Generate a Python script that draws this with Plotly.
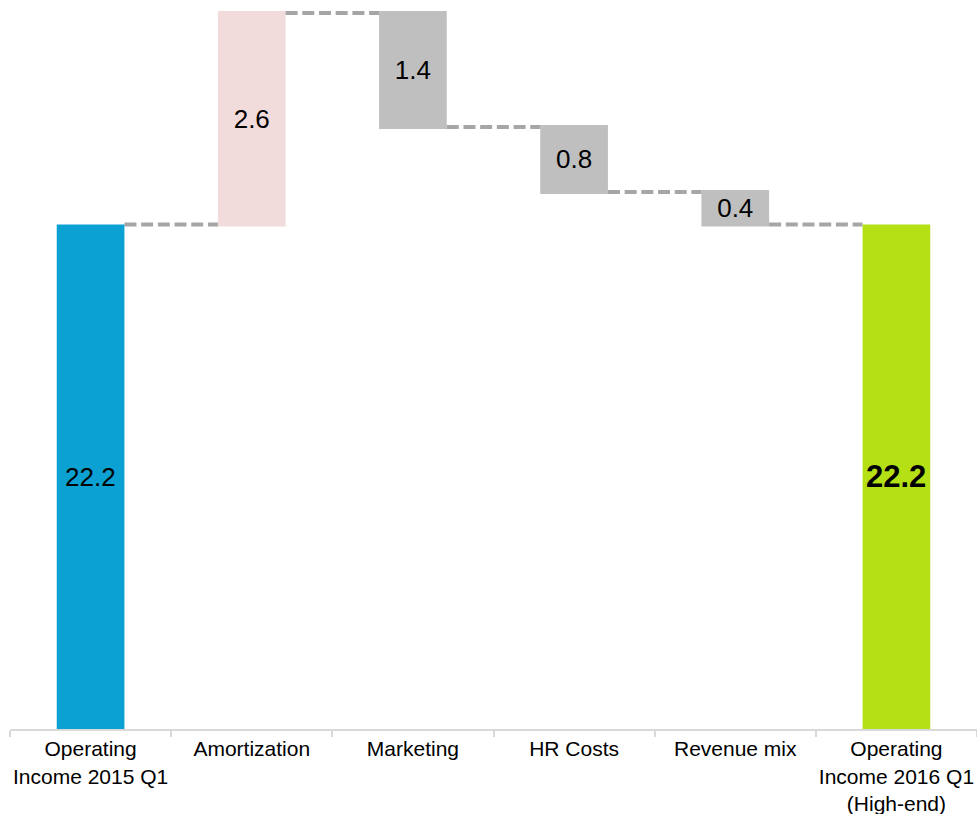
import plotly.graph_objects as go

categories = [
    "Operating<br>Income 2015 Q1",
    "Amortization",
    "Marketing",
    "HR Costs",
    "Revenue mix",
    "Operating<br>Income 2016 Q1<br>(High-end)",
]
start_value = 22.2
changes = [2.6, -1.4, -0.8, -0.4]
measures = ["absolute", "relative", "relative", "relative", "relative", "total"]

end_value = round(start_value + sum(changes), 1)
wf_y = [start_value] + changes + [0]
wf_text = [""] + [f"{abs(c):.1f}" for c in changes] + [""]

Y_MIN, Y_MAX = 16, 24.96
FONT = "Liberation Sans, Arial, sans-serif"
BAR_WIDTH = 0.42

fig = go.Figure()
# waterfall: steps and connectors (total bars drawn transparent, coloured below)
fig.add_trace(go.Waterfall(
    x=categories,
    y=wf_y,
    measure=measures,
    text=wf_text,
    textposition="inside",
    insidetextanchor="middle",
    constraintext="none",
    textfont=dict(family=FONT, size=26, color="#000000"),
    increasing=dict(marker=dict(color="#F2DCDB")),
    decreasing=dict(marker=dict(color="#BFBFBF")),
    totals=dict(marker=dict(color="rgba(0,0,0,0)")),
    connector=dict(line=dict(color="#A6A6A6", width=4, dash="12px,4.7px"), mode="between"),
    width=BAR_WIDTH,
    hoverinfo="skip",
    showlegend=False,
))
# start and end totals with their own colours
fig.add_trace(go.Bar(
    x=[categories[0], categories[-1]],
    y=[start_value, end_value],
    marker=dict(color=["#0BA1D3", "#B5E016"], line=dict(width=0)),
    width=BAR_WIDTH,
    hoverinfo="skip",
    showlegend=False,
))

# labels of the two tall bars, centred on their visible part
fig.add_annotation(x=categories[0], y=(Y_MIN + start_value) / 2,
                   text=f"{start_value:.1f}", showarrow=False,
                   font=dict(family=FONT, size=26, color="#000000"))
fig.add_annotation(x=categories[-1], y=(Y_MIN + end_value) / 2,
                   text=f"<b>{end_value:.1f}</b>", showarrow=False,
                   font=dict(family=FONT, size=31, color="#000000"))

fig.update_layout(
    width=977,
    height=814,
    margin=dict(l=10, r=0, t=0, b=85),
    paper_bgcolor="white",
    plot_bgcolor="white",
    font=dict(family=FONT, color="#000000"),
    xaxis=dict(
        type="category",
        automargin=False,
        tickangle=0,
        showgrid=False,
        showline=True,
        linecolor="#D9D9D9",
        linewidth=2,
        ticks="outside",
        tickson="boundaries",
        ticklen=6,
        tickwidth=2,
        tickcolor="#D9D9D9",
        ticklabelstandoff=0,
        tickfont=dict(family=FONT, size=21, color="#000000"),
    ),
    yaxis=dict(
        range=[Y_MIN, Y_MAX],
        visible=False,
        showgrid=False,
        zeroline=False,
        automargin=False,
    ),
)

fig.write_html(
    "out.html",
    config={"displayModeBar": False},
    post_script="document.body.style.margin='0';document.body.style.overflow='hidden';",
)
